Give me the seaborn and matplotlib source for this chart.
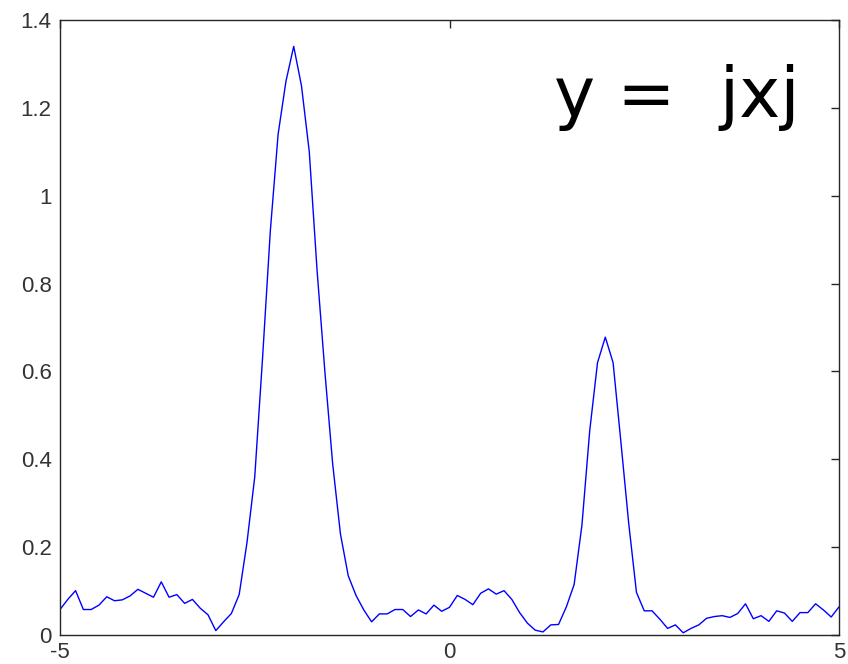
import numpy as np
import pandas as pd
import matplotlib
matplotlib.use("Agg")
import matplotlib.pyplot as plt
import seaborn as sns

# Sampled signal on a 0.1 grid from -5 to 5
x_start, x_stop, n_samples = -5.0, 5.0, 101
y_values = [
    0.058, 0.081, 0.101, 0.058, 0.058, 0.068, 0.087, 0.078, 0.080, 0.089,   # -5.0 .. -4.1
    0.104, 0.095, 0.086, 0.121, 0.086, 0.092, 0.072, 0.081, 0.061, 0.046,   # -4.0 .. -3.1
    0.010, 0.030, 0.049, 0.092, 0.210, 0.360, 0.630, 0.920, 1.140, 1.260,   # -3.0 .. -2.1
    1.340, 1.250, 1.100, 0.830, 0.600, 0.390, 0.230, 0.135, 0.090, 0.057,   # -2.0 .. -1.1
    0.030, 0.048, 0.048, 0.058, 0.058, 0.042, 0.057, 0.048, 0.068, 0.054,   # -1.0 .. -0.1
    0.063, 0.090, 0.081, 0.069, 0.095, 0.105, 0.093, 0.101, 0.081, 0.051,   #  0.0 ..  0.9
    0.027, 0.011, 0.007, 0.023, 0.024, 0.064, 0.115, 0.250, 0.465, 0.620,   #  1.0 ..  1.9
    0.678, 0.620, 0.440, 0.255, 0.097, 0.055, 0.055, 0.036, 0.015, 0.023,   #  2.0 ..  2.9
    0.005, 0.015, 0.023, 0.038, 0.042, 0.044, 0.040, 0.049, 0.071, 0.037,   #  3.0 ..  3.9
    0.044, 0.031, 0.055, 0.050, 0.031, 0.051, 0.051, 0.071, 0.057, 0.041,   #  4.0 ..  4.9
    0.064,                                                                  #  5.0
]
x_values = np.linspace(x_start, x_stop, n_samples)
assert len(y_values) == len(x_values)

x_ticks = [-5, 0, 5]
x_tick_labels = ["-5", "0", "5"]
y_ticks = [0, 0.2, 0.4, 0.6, 0.8, 1.0, 1.2, 1.4]
y_tick_labels = ["0", "0.2", "0.4", "0.6", "0.8", "1", "1.2", "1.4"]
title_text = "y =  jxj"

df = pd.DataFrame({"x": x_values, "y": y_values})

sns.set_theme(style="white")
plt.rcParams["font.family"] = ["Liberation Sans", "DejaVu Sans"]

fig = plt.figure(figsize=(8.48, 6.64), dpi=100)
ax = fig.add_axes([60 / 848, 29 / 664, 779 / 848, 615 / 664])

sns.lineplot(data=df, x="x", y="y", ax=ax, color="#0000ff", linewidth=1.0,
             estimator=None, sort=False)

ax.set_xlim(-5, 5)
ax.set_ylim(0, 1.4)
ax.set_xticks(x_ticks)
ax.set_xticklabels(x_tick_labels)
ax.set_yticks(y_ticks)
ax.set_yticklabels(y_tick_labels)
ax.set_xlabel("")
ax.set_ylabel("")

for side in ["left", "right", "top", "bottom"]:
    ax.spines[side].set_visible(True)
    ax.spines[side].set_color("#262626")
    ax.spines[side].set_linewidth(1.0)

ax.tick_params(axis="both", which="major", direction="in", length=6, width=1.0,
               color="#262626", labelsize=16, labelcolor="#333333",
               top=True, right=True, pad=6)
ax.tick_params(axis="x", pad=5)

ax.text(0.95, 0.843, title_text, transform=ax.transAxes, ha="right",
        va="baseline", fontsize=50, color="black", family=["DejaVu Sans"])

fig.savefig("out.png", dpi=100, facecolor="white")
